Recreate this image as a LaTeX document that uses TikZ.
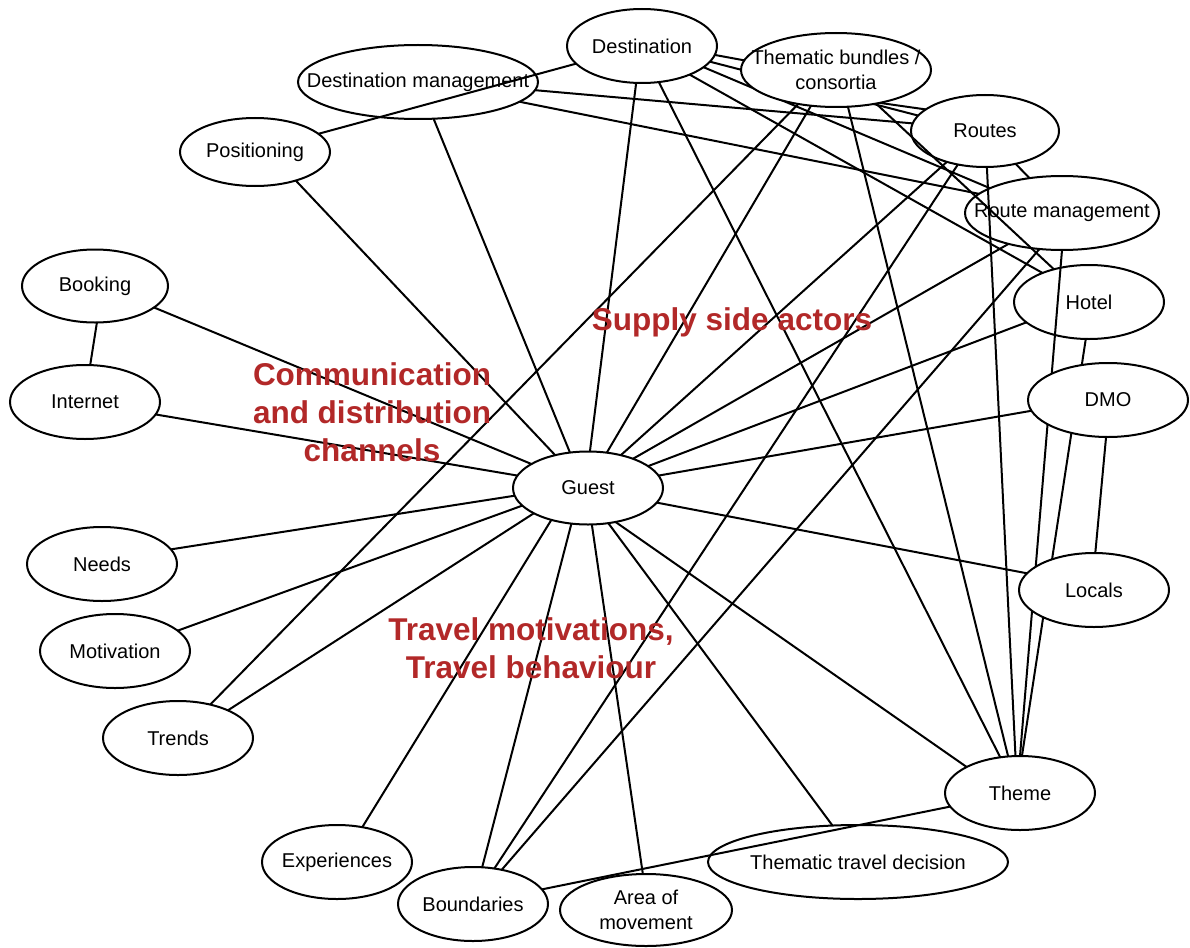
\documentclass[tikz,border=0pt]{standalone}
\usepackage{fontspec}
\setmainfont{Liberation Sans}
\usetikzlibrary{shapes.geometric,backgrounds}
\definecolor{lblred}{RGB}{178,40,40}
\begin{document}
\begin{tikzpicture}[x=1pt,y=-1pt,
  ell/.style={ellipse, draw, line width=2pt, inner xsep=-80pt, inner ysep=-20pt, outer sep=0pt,
              font=\fontsize{20}{25}\selectfont, align=center},
  sz/.style n args={2}{minimum width=#1pt, minimum height=#2pt},
  link/.style={line width=2pt},
  lbl/.style={text=lblred, font=\fontsize{31.5}{38}\selectfont\bfseries, align=center}]
\useasboundingbox (0,0) rectangle (1190,947);

% nodes
\node[ell, sz={150}{74}] (dest) at (642,46) {Destination};
\node[ell, sz={240}{74}] (dm) at (418,82) {Destination management};
\node[ell, sz={150}{68}] (pos) at (255,152) {Positioning};
\node[ell, fill=white, sz={190}{74}] (tb) at (836,70) {Thematic bundles /\\consortia};
\node[ell, sz={148}{72}] (routes) at (985,131) {Routes};
\node[ell, sz={194}{74}] (rm) at (1062,213) {Route management};
\node[ell, sz={150}{74}] (hotel) at (1089,302) {Hotel};
\node[ell, fill=white, sz={160}{74}] (dmo) at (1108,400) {DMO};
\node[ell, fill=white, sz={150}{74}] (locals) at (1094,590) {Locals};
\node[ell, sz={150}{74}] (theme) at (1020,793) {Theme};
\node[ell, sz={300}{74}] (ttd) at (858,862) {Thematic travel decision};
\node[ell, sz={172}{72}] (aom) at (646,910) {Area of\\movement};
\node[ell, sz={150}{74}] (bound) at (473,904) {Boundaries};
\node[ell, sz={150}{74}] (exp) at (337,862) {Experiences};
\node[ell, sz={150}{74}] (trends) at (178,738) {Trends};
\node[ell, sz={150}{74}] (motiv) at (115,651) {Motivation};
\node[ell, sz={150}{74}] (needs) at (102,564) {Needs};
\node[ell, sz={150}{74}] (internet) at (85,402) {Internet};
\node[ell, sz={146}{73}] (booking) at (95,286) {Booking};
\node[ell, sz={150}{73}] (guest) at (588,488) {Guest};

% labels
\node[lbl] (sup) at (732,322) {Supply side actors};
\node[lbl] (comm) at (372,412) {Communication\\and distribution\\channels};
\node[lbl] (trav) at (531,648) {Travel motivations,\\Travel behaviour};

% connectors
\begin{scope}[on background layer]
\fill[white] (0,0) rectangle (1190,947);
\draw[link] (booking.-87) -- (internet.82);
\draw[link] (booking.-20) -- (guest.157);
\draw[link] (internet.-10) -- (guest.170);
\draw[link] (needs.12) -- (guest.-174);
\draw[link] (motiv.18) -- (guest.-165);
\draw[link] (trends.29) -- (guest.-155);
\draw[link] (trends.46) -- (tb.-138);
\draw[link] (pos.-35) -- (guest.135);
\draw[link] (pos.16) -- (dest.-165);
\draw[link] (dm.-67) -- (guest.117);
\draw[link] (dest.-99) -- (guest.87);
\draw[link] (dm.-4) -- (routes.174);
\draw[link] (dm.-11) -- (rm.167);
\draw[link] (dest.-7) -- (tb.174);
\draw[link] (dest.-13) -- (routes.167);
\draw[link] (tb.-37) -- (routes.160);
\draw[link] (dest.-19) -- (rm.161);
\draw[link] (dest.-31) -- (hotel.148);
\draw[link] (dest.-65) -- (theme.119);
\draw[link] (tb.-40) -- (hotel.137);
\draw[link] (tb.-72) -- (theme.108);
\draw[link] (tb.-125) -- (guest.62);
\draw[link] (routes.-47) -- (rm.133);
\draw[link] (routes.-87) -- (theme.97);
\draw[link] (routes.-129) -- (bound.59);
\draw[link] (routes.-141) -- (guest.45);
\draw[link] (rm.-90) -- (theme.90);
\draw[link] (rm.-122) -- (bound.50);
\draw[link] (rm.-150) -- (guest.33);
\draw[link] (hotel.-95) -- (theme.87);
\draw[link] (hotel.-162) -- (guest.20);
\draw[link] (dmo.-172) -- (guest.10);
\draw[link] (dmo.-93) -- (locals.88);
\draw[link] (locals.166) -- (guest.-12);
\draw[link] (theme.154) -- (guest.-51);
\draw[link] (ttd.125) -- (guest.-60);
\draw[link] (aom.95) -- (guest.-84);
\draw[link] (bound.76) -- (guest.-115);
\draw[link] (exp.54) -- (guest.-139);
\draw[link] (bound.12) -- (theme.-169);
\end{scope}
\end{tikzpicture}
\end{document}
